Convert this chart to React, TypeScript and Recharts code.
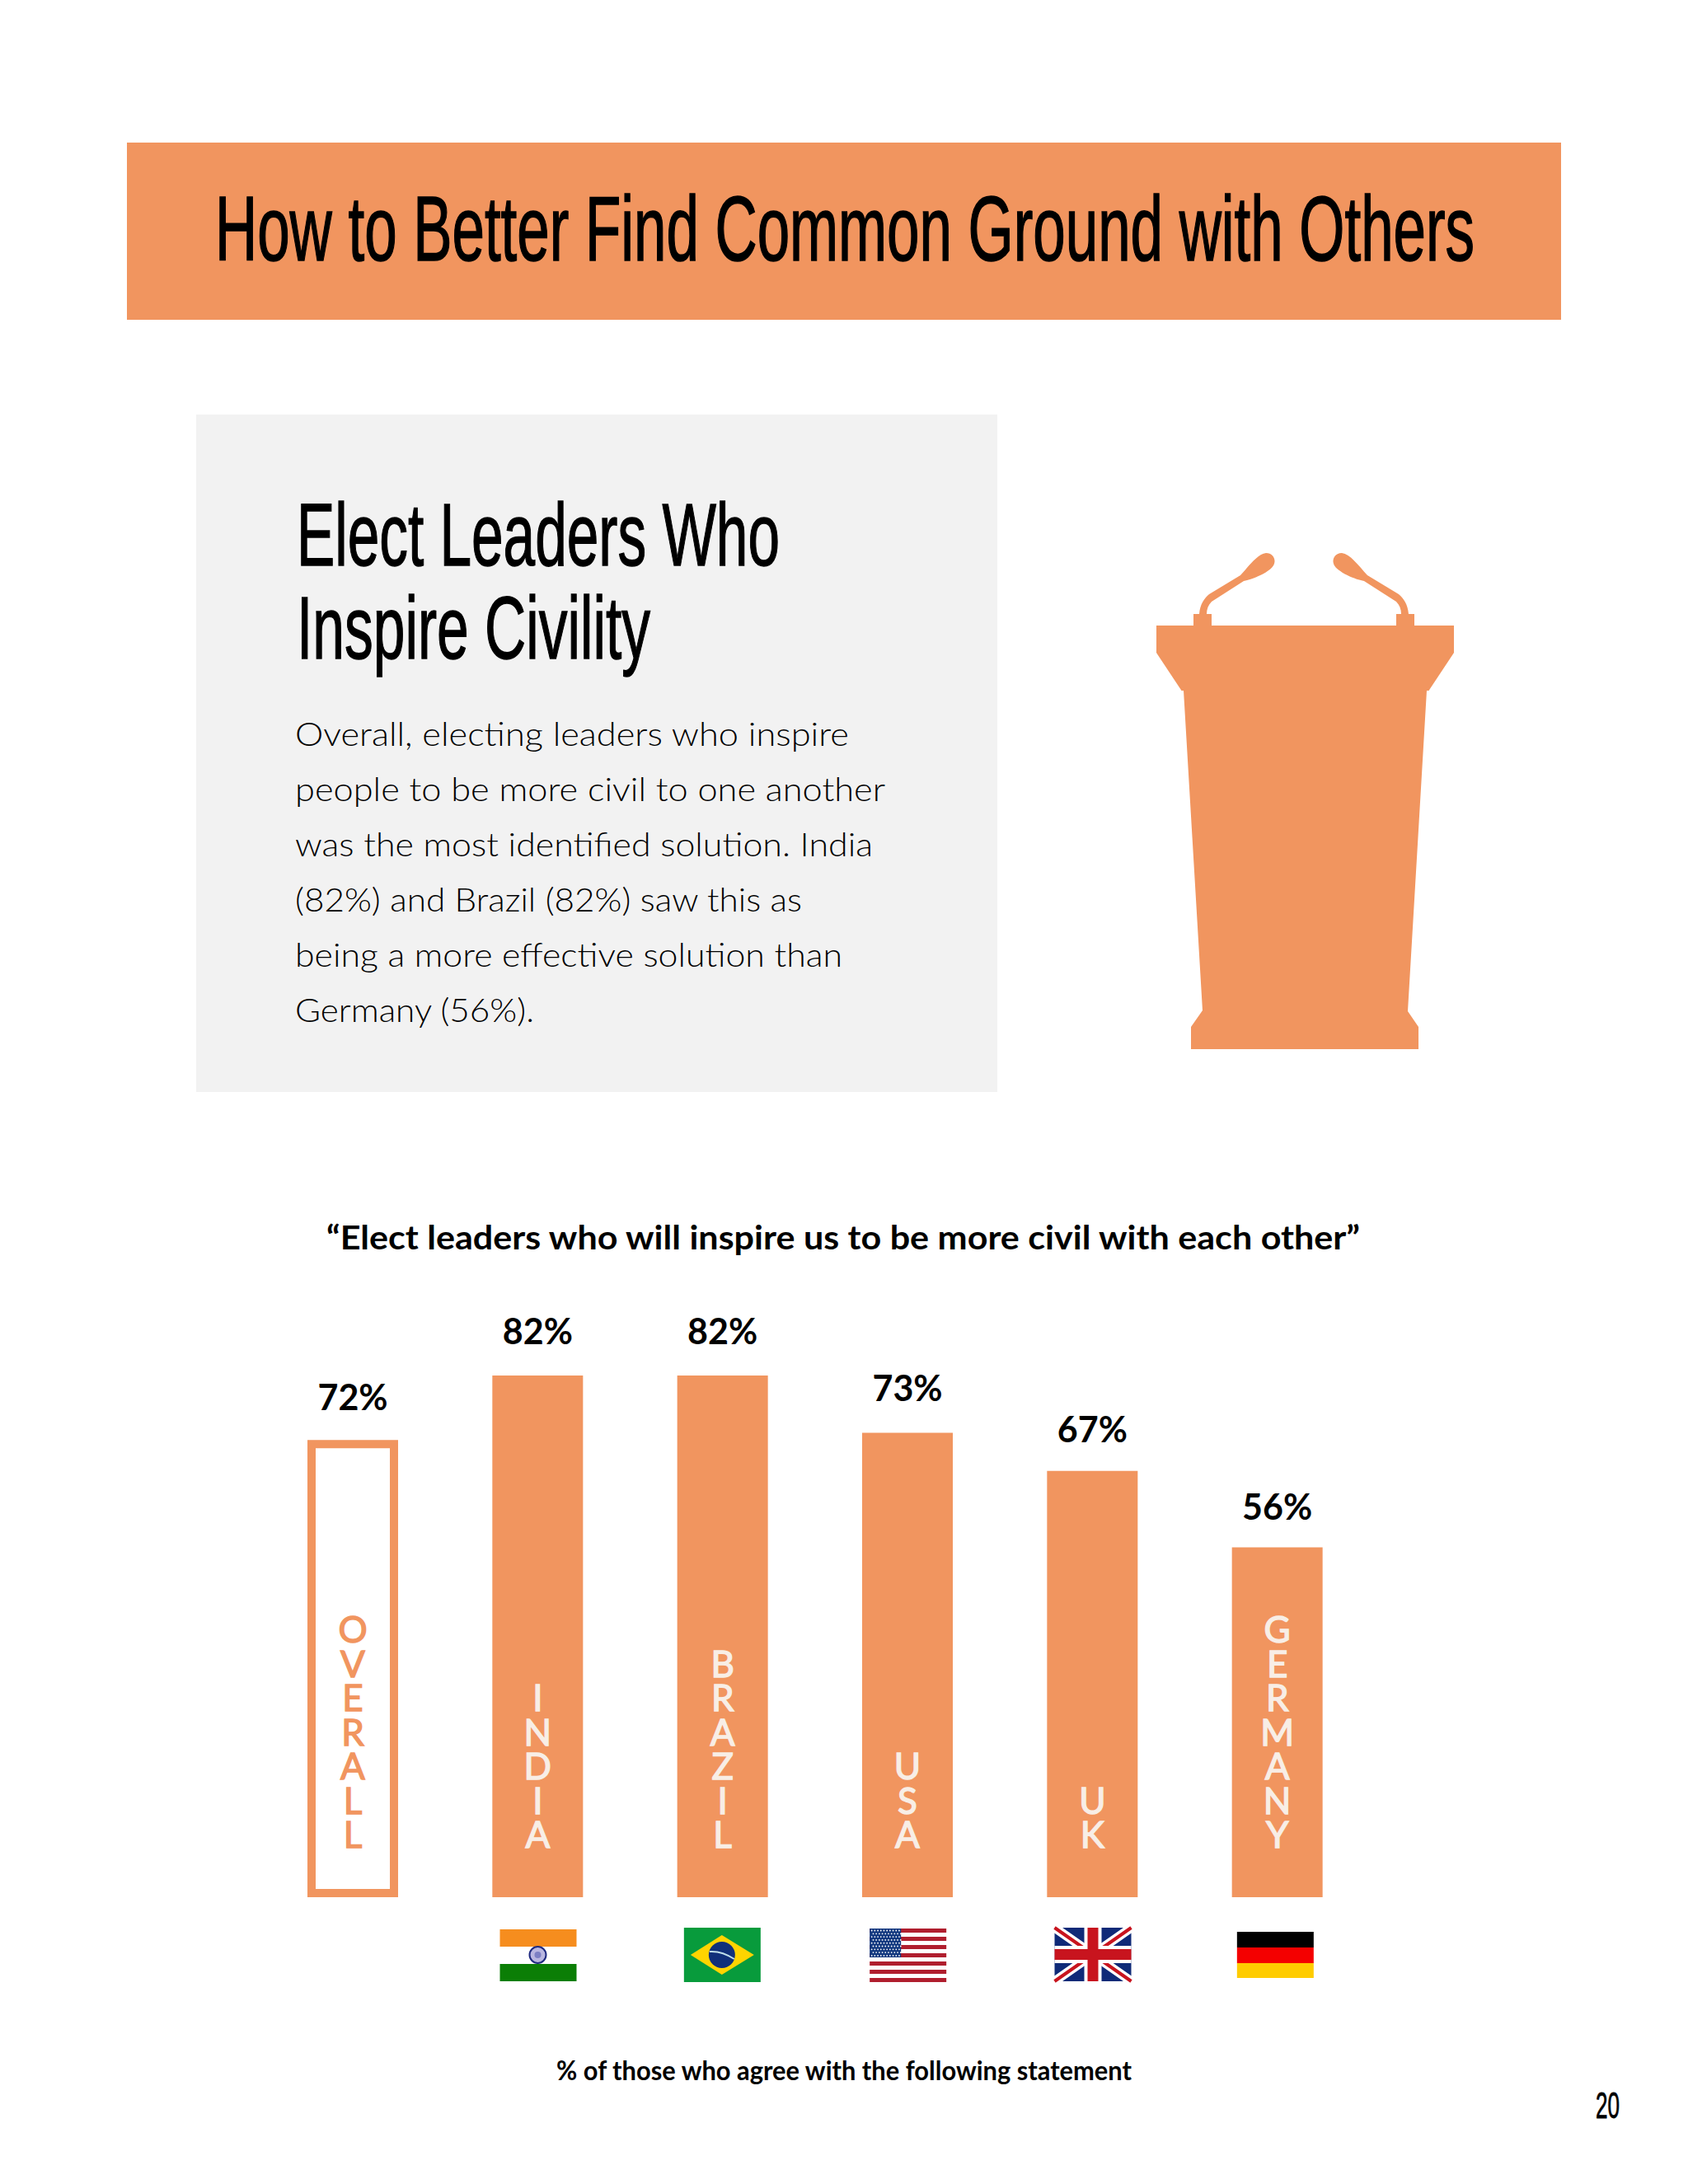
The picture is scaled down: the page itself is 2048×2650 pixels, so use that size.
// App.tsx
import { BarChart, Bar, XAxis, YAxis, Rectangle, LabelList } from "recharts";

const categories = ["OVERALL", "INDIA", "BRAZIL", "USA", "UK", "GERMANY"];
// printed labels
const valueLabels = ["72%", "82%", "82%", "73%", "67%", "56%"];
// bar lengths as measured on the page (the Germany bar is drawn a bit shorter than its label)
const barValues = [72, 82, 82, 73, 67, 55];
const bodyLines = [
  "Overall, electing leaders who inspire",
  "people to be more civil to one another",
  "was the most identified solution. India",
  "(82%) and Brazil (82%) saw this as",
  "being a more effective solution than",
  "Germany (56%).",
];
const bodyLineWidths = [672, 716, 701, 615, 664, 290];

const ORANGE = "#F1955F";
const SANS = "Lato, sans-serif";
const NARROW = "'Liberation Sans', sans-serif";

const data = categories.map((name, i) => ({
  name,
  value: barValues[i],
  label: valueLabels[i],
}));

function BarWithName(props: any) {
  const { x, y, width, height, payload } = props;
  const isOverall = payload.name === "OVERALL";
  const cx = x + width / 2;
  const bottom = y + height;
  const letters = payload.name.split("");
  const letterFill = isOverall ? ORANGE : "#F8EEE6";
  return (
    <g>
      {isOverall ? (
        <Rectangle
          x={x + 5}
          y={y + 6}
          width={width - 10}
          height={height - 11}
          fill="#fff"
          stroke={ORANGE}
          strokeWidth={10}
        />
      ) : (
        <Rectangle x={x} y={y} width={width} height={height} fill={ORANGE} />
      )}
      <text
        textAnchor="middle"
        fontFamily={SANS}
        fontSize={44}
        fontWeight={400}
        fill={letterFill}
        stroke={letterFill}
        strokeWidth={1.4}
      >
        {letters.map((c: string, i: number) => (
          <tspan key={i} x={cx} y={bottom - 60 - (letters.length - 1 - i) * 41.5}>
            {c}
          </tspan>
        ))}
      </text>
    </g>
  );
}

// labels do not sit at one fixed distance from their bars on the page
const labelNudge: Record<string, number> = { "72%": 3, "67%": 3, "56%": 5 };

function ValueLabel(props: any) {
  const { x, y, width, value } = props;
  return (
    <text
      x={x + width / 2}
      y={y - 38 + (labelNudge[value] || 0)}
      textAnchor="middle"
      fontFamily={SANS}
      fontWeight={700}
      fontSize={43}
      fill="#000"
    >
      {value}
    </text>
  );
}

function Flag({ name }: { name: string }) {
  const w = 93;
  if (name === "INDIA") {
    return (
      <g transform="translate(-46,-31)">
        <rect width={w} height={21} fill="#F68D1E" />
        <rect y={42} width={w} height={21} fill="#0B7E06" />
        <circle cx={46} cy={31} r={10} fill="#B9B6E0" stroke="#1F2A80" strokeWidth={2} />
        <circle cx={46} cy={31} r={4} fill="#7C7FC4" />
      </g>
    );
  }
  if (name === "BRAZIL") {
    return (
      <g transform="translate(-47,-33)">
        <rect width={w} height={66} fill="#089B3C" />
        <polygon points="46,9 85,33 46,57 8,33" fill="#FFD400" />
        <circle cx={46} cy={33} r={16} fill="#10307A" />
        <path d="M31 29 Q46 28 61 38" stroke="#BFE0EA" strokeWidth={2} fill="none" />
      </g>
    );
  }
  if (name === "USA") {
    const stripes = [0, 1, 2, 3, 4, 5, 6, 7, 8, 9, 10, 11, 12];
    const rows = [0, 1, 2, 3, 4, 5, 6, 7, 8];
    const cols = [0, 1, 2, 3, 4, 5, 6, 7, 8, 9];
    return (
      <g transform="translate(-46,-32)">
        {stripes.map((s) =>
          s % 2 === 0 ? <rect key={s} y={s * 5} width={w} height={5} fill="#B01E2E" /> : null
        )}
        <rect width={38} height={35} fill="#12387F" />
        {rows.map((r) =>
          cols.map((c) => (
            <circle
              key={r + "-" + c}
              cx={2.5 + c * 3.7 + (r % 2 ? 1.8 : 0)}
              cy={2.5 + r * 3.8}
              r={0.9}
              fill="#fff"
            />
          ))
        )}
      </g>
    );
  }
  if (name === "UK") {
    return (
      <g transform="translate(-46,-33)">
        <rect width={w} height={65} fill="#0F2A78" />
        <path d="M0 0 L93 65 M93 0 L0 65" stroke="#fff" strokeWidth={11} />
        <path d="M0 0 L93 65 M93 0 L0 65" stroke="#C8141E" strokeWidth={4} />
        <rect x={36} width={21} height={65} fill="#fff" />
        <rect y={22} width={93} height={21} fill="#fff" />
        <rect x={40} width={13} height={65} fill="#C8141E" />
        <rect y={26} width={93} height={13} fill="#C8141E" />
      </g>
    );
  }
  if (name === "GERMANY") {
    return (
      <g transform="translate(-49,-28)">
        <rect width={w} height={19} fill="#000" />
        <rect y={19} width={w} height={19} fill="#F40000" />
        <rect y={38} width={w} height={18} fill="#FFCC00" />
      </g>
    );
  }
  return null;
}

function FlagTick(props: any) {
  const { x, y, payload } = props;
  return (
    <g transform={`translate(${x},${y + 62})`}>
      <Flag name={payload.value} />
    </g>
  );
}

function Podium() {
  const mic =
    "M1448 759 V745 H1455 C1456 733 1461 726 1467 721 L1505 698 C1516 686 1526 672 1536 671 C1544 671 1548 678 1546 684 C1544 692 1524 702 1509 705 L1470 730 C1466 734 1464 739 1464 745 H1470 V759 Z";
  return (
    <g fill={ORANGE}>
      <path d="M1403 759 H1764 V792 L1733.5 838 H1731 L1708 1227 L1721 1246 V1273 H1445 V1246 L1459 1226 L1436 838 H1433.5 L1403 792 Z" />
      <path d={mic} />
      <path d={mic} transform="translate(3164,0) scale(-1,1)" />
    </g>
  );
}

function PageLayer() {
  const headingProps = {
    fontFamily: NARROW,
    fill: "#000",
    stroke: "#000",
    lengthAdjust: "spacingAndGlyphs",
  };
  return (
    <svg width={2048} height={2650} style={{ position: "absolute", left: 0, top: 0 }}>
      <rect x={154} y={173} width={1740} height={215} fill={ORANGE} />
      <text x={261} y={316} fontSize={112} strokeWidth={1.6} textLength={1528} {...headingProps}>
        How to Better Find Common Ground with Others
      </text>
      <rect x={238} y={503} width={972} height={822} fill="#F2F2F2" />
      <text x={360} y={686} fontSize={108} strokeWidth={1.4} textLength={586} {...headingProps}>
        Elect Leaders Who
      </text>
      <text x={360} y={799} fontSize={108} strokeWidth={1.4} textLength={429} {...headingProps}>
        Inspire Civility
      </text>
      {bodyLines.map((line, i) => (
        <text
          key={i}
          x={358}
          y={904.5 + i * 67}
          fontFamily={SANS}
          fontSize={40}
          fontWeight={300}
          fill="#000"
          textLength={bodyLineWidths[i]}
          lengthAdjust="spacingAndGlyphs"
        >
          {line}
        </text>
      ))}
      <Podium />
      <text
        x={1023}
        y={1516}
        textAnchor="middle"
        fontFamily={SANS}
        fontSize={40}
        fontWeight={700}
        textLength={1254}
        lengthAdjust="spacingAndGlyphs"
      >
        “Elect leaders who will inspire us to be more civil with each other”
      </text>
      <text
        x={1024}
        y={2524}
        textAnchor="middle"
        fontFamily={SANS}
        fontSize={32}
        fontWeight={700}
        textLength={698}
        lengthAdjust="spacingAndGlyphs"
      >
        % of those who agree with the following statement
      </text>
      <text x={1936} y={2570} fontSize={44} strokeWidth={0.8} textLength={29} {...headingProps}>
        20
      </text>
    </svg>
  );
}

export default function App() {
  return (
    <div style={{ position: "absolute", left: 0, top: 0, width: 2048, height: 2650, background: "#fff" }}>
      <PageLayer />
      <div style={{ position: "absolute", left: 0, top: 0 }}>
        <BarChart
          width={2048}
          height={2650}
          data={data}
          margin={{ top: 1530, right: 386, bottom: 248, left: 316 }}
        >
          <YAxis hide domain={[0, 100]} />
          <XAxis
            dataKey="name"
            height={100}
            axisLine={false}
            tickLine={false}
            interval={0}
            tick={<FlagTick />}
          />
          <Bar dataKey="value" barSize={110} isAnimationActive={false} shape={<BarWithName />}>
            <LabelList dataKey="label" content={<ValueLabel />} />
          </Bar>
        </BarChart>
      </div>
    </div>
  );
}
